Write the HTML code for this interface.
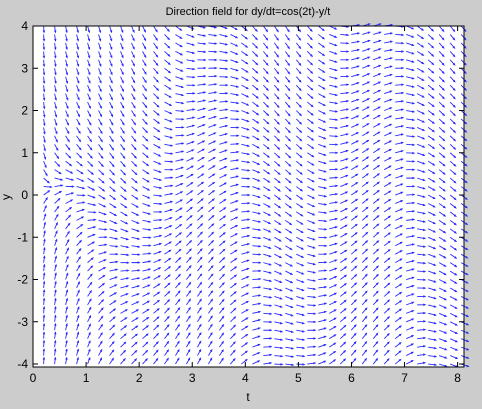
<!DOCTYPE html>
<html><head><meta charset="utf-8"><style>
body{margin:0;background:#cccccc;}
svg{display:block;font-family:"Liberation Sans",sans-serif;}
</style></head><body>
<svg id="chart" width="482" height="409" viewBox="0 0 482 409">
<rect x="0" y="0" width="482" height="409" fill="#cccccc"/>
<rect x="33" y="26" width="431" height="341" fill="#ffffff"/>
<g id="arrows"></g>
<rect x="33" y="26" width="431" height="341" fill="none" stroke="#000" stroke-width="1"/>
<g id="ticks"></g>
<text x="248" y="15" font-size="11" text-anchor="middle">Direction field for dy/dt=cos(2t)-y/t</text>
<text x="248" y="401" font-size="12" text-anchor="middle">t</text>
<text x="10" y="197" font-size="12" text-anchor="middle" transform="rotate(-90 10 197)">y</text>
</svg>
<script>
const xTicks=[0,1,2,3,4,5,6,7,8];
const yTicks=[-4,-3,-2,-1,0,1,2,3,4];
const tStart=0.2, tStep=0.207, tCount=39;
const yStart=-4, yStep=0.2, yCount=41;
const xMin=0,xMax=8.12,yMin=-4.07,yMax=4;
const L=33,R=464,T=26,B=367;
const sx=v=>L+(v-xMin)/(xMax-xMin)*(R-L);
const sy=v=>B-(v-yMin)/(yMax-yMin)*(B-T);
const slope=(t,y)=>Math.cos(2*t)-y/t;
const NS="http://www.w3.org/2000/svg";
const ga=document.getElementById('arrows');
const scale=0.15;
for(let i=0;i<tCount;i++){
  const t=tStart+i*tStep;
  for(let j=0;j<yCount;j++){
    const y=yStart+j*yStep;
    const f=slope(t,y);
    const n=Math.sqrt(1+f*f);
    const dx=scale/n, dy=scale*f/n;
    const x0=sx(t), y0=sy(y), x1=sx(t+dx), y1=sy(y+dy);
    const ang=Math.atan2(y1-y0,x1-x0);
    const h=2;
    const p=document.createElementNS(NS,'path');
    const ax=x1-h*Math.cos(ang-0.4), ay=y1-h*Math.sin(ang-0.4);
    const bx=x1-h*Math.cos(ang+0.4), by=y1-h*Math.sin(ang+0.4);
    p.setAttribute('d',`M${x0.toFixed(2)},${y0.toFixed(2)}L${x1.toFixed(2)},${y1.toFixed(2)}M${ax.toFixed(2)},${ay.toFixed(2)}L${x1.toFixed(2)},${y1.toFixed(2)}L${bx.toFixed(2)},${by.toFixed(2)}`);
    p.setAttribute('stroke','#2a2aff');
    p.setAttribute('stroke-width','0.9');
    p.setAttribute('fill','none');
    
    
    ga.appendChild(p);
  }
}
const gt=document.getElementById('ticks');
xTicks.forEach(v=>{
  const x=sx(v);
  const l=document.createElementNS(NS,'path');
  l.setAttribute('d',`M${x},${B}V${B-5}M${x},${T}V${T+5}`);
  l.setAttribute('stroke','#000');
  
  
  gt.appendChild(l);
  const tx=document.createElementNS(NS,'text');
  tx.setAttribute('x',x);tx.setAttribute('y',B+15);
  tx.setAttribute('font-size','12');tx.setAttribute('text-anchor','middle');
  tx.textContent=v;
  
  
  gt.appendChild(tx);
});
yTicks.forEach(v=>{
  const y=sy(v);
  const l=document.createElementNS(NS,'path');
  l.setAttribute('d',`M${L},${y}H${L+5}M${R},${y}H${R-5}`);
  l.setAttribute('stroke','#000');
  
  
  gt.appendChild(l);
  const tx=document.createElementNS(NS,'text');
  tx.setAttribute('x',L-5);tx.setAttribute('y',y+4);
  tx.setAttribute('font-size','12');tx.setAttribute('text-anchor','end');
  tx.textContent=v;
  
  
  gt.appendChild(tx);
});
</script>
</body></html>
